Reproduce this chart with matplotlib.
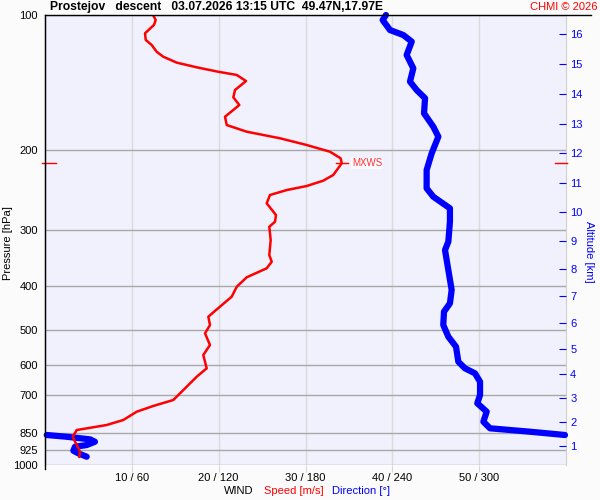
import numpy as np
import matplotlib
matplotlib.use('Agg')
from matplotlib import pyplot as plt
from matplotlib import transforms
from matplotlib.ticker import NullLocator

plt.rcParams['font.family'] = ['Liberation Sans', 'DejaVu Sans']

## wind speed profile [m/s] vs pressure [hPa]
speedPres = [100, 102.6, 105.2, 109.8, 113.6, 116.6, 120.7, 123.8, 127.6, 130.7,
             133.7, 135.9, 140.2, 146.8, 152.4, 158.5, 168.3, 175.6, 181.7, 187.9,
             194.5, 201.3, 208.2, 213.6, 226.7, 233.4, 239.9, 244.9, 251.2, 262.1,
             278.3, 288.0, 295.5, 316.2, 341.5, 353.4, 365.5, 382.7, 401.7, 422.7,
             444.8, 468.2, 488.6, 509.8, 541.2, 569.6, 609.8, 636.6, 669.9, 717.0,
             739.3, 761.3, 794.3, 814.9, 836.2, 865.4, 903.0, 934.1, 958.5]
speedVal = [12.44, 12.75, 12.55, 11.52, 11.60, 12.29, 12.86, 13.62, 15.17, 17.47,
            19.96, 22.08, 23.15, 21.88, 21.69, 22.38, 20.73, 20.93, 23.23, 27.06,
            30.14, 32.82, 34.05, 34.17, 33.20, 32.05, 30.14, 27.84, 25.91, 25.53,
            26.60, 26.49, 25.83, 25.99, 25.83, 26.11, 25.53, 23.23, 22.08, 21.50,
            20.15, 18.81, 19.00, 18.43, 19.00, 18.23, 18.62, 17.47, 16.32, 14.78,
            12.47, 10.56, 9.02, 7.11, 3.65, 3.19, 3.65, 4.03, 3.95]

## wind direction profile [deg] vs pressure [hPa]
dirPres = [100, 102.6, 108.0, 110.8, 114.6, 122.7, 131.4, 140.6, 146.8, 153.1,
           165.4, 177.1, 186.4, 202.9, 221.1, 242.7, 253.4, 268.9, 288.0, 319.0,
           332.9, 368.8, 408.4, 437.2, 456.3, 488.6, 518.7, 546.0, 589.3, 609.8,
           625.6, 653.0, 699.0, 729.2, 761.3, 801.3, 828.8, 843.4, 857.7,
           857.7, 865.4, 877.0, 887.8, 903.0, 910.8, 929.5, 942.0, 958.5]
dirVal = [235.6, 233.3, 238.4, 247.6, 253.4, 249.9, 254.5, 252.2, 256.8, 262.6,
          261.9, 268.3, 271.8, 267.2, 263.7, 263.7, 268.3, 279.8, 279.8, 278.7,
          276.4, 278.7, 281.0, 279.8, 275.7, 275.2, 278.7, 284.0, 285.6, 290.2,
          297.1, 300.6, 300.6, 298.7, 305.2, 302.9, 307.5, 335.1, 359.3,
          1.2, 15.0, 31.1, 34.5, 28.8, 20.7, 19.6, 23.0, 28.8]

## altitude scale
altKm = [1, 2, 3, 4, 5, 6, 7, 8, 9, 10, 11, 12, 13, 14, 15, 16]
altPres = [907.5, 802.0, 710.0, 627.9, 552.4, 483.6, 421.1, 366.8, 317.9, 274.1,
           236.2, 202.6, 174.7, 149.8, 128.5, 110.2]

presTicks = [100, 200, 300, 400, 500, 600, 700, 850, 925, 1000]
speedTicks = [10, 20, 30, 40, 50]
dirTicks = [60, 120, 180, 240, 300]

mxwsPres = 213.6
mxwsSpeed = 34.17

TITLE = 'Prostejov   descent   03.07.2026 13:15 UTC  49.47N,17.97E'
FS = 8

fig = plt.figure(figsize=(6, 5), dpi=100, facecolor='#fbfbfb')
ax = fig.add_axes([45/600, 35/500, 521/600, 450/500])
ax.set_facecolor('#f1f1fd')
ax.set_yscale('log')
ax.set_ylim(1000, 100)
ax.set_xlim(0, 60)
ax.yaxis.set_minor_locator(NullLocator())
ax.set_yticks(presTicks)
ax.set_yticklabels([str(p) for p in presTicks])
ax.set_xticks(speedTicks)
ax.set_xticklabels(['{} / {}'.format(s, d) for s, d in zip(speedTicks, dirTicks)])
ax.tick_params(axis='y', length=0, pad=5, labelsize=FS)
ax.tick_params(axis='x', length=5, color='#d8d8d8', pad=1, labelsize=FS)
ax.set_axisbelow(True)
ax.yaxis.grid(True, color='#a8a8a8', lw=1)
ax.xaxis.grid(True, color='#dadada', lw=1)
for s in ['top', 'bottom']:
	ax.spines[s].set_visible(False)
ax.spines['left'].set_color('k')
ax.spines['right'].set_color('#d0d0d0')

## direction axis (0-360) on top of speed axis
axd = ax.twiny()
axd.set_xlim(0, 360)
axd.set_xticks([])
for s in axd.spines.values():
	s.set_visible(False)

# break the direction line where it wraps around 360
dv = np.array(dirVal, dtype=float)
dp = np.array(dirPres, dtype=float)
jumps = np.where(np.abs(np.diff(dv)) > 180)[0] + 1
dvPlot = np.insert(dv, jumps, np.nan)
dpPlot = np.insert(dp, jumps, np.nan)
axd.plot(dvPlot, dpPlot, color='#0000ff', lw=4.5, solid_capstyle='round',
	solid_joinstyle='round', clip_on=False, zorder=2)

# speed drawn on the same layer, using the speed axis transform
axd.plot(speedVal, speedPres, color='#ff0000', lw=1.8, transform=ax.transData,
	solid_joinstyle='round', zorder=3)

## MXWS marks
bl = transforms.blended_transform_factory(ax.transAxes, ax.transData)
axd.plot([-0.006, 0.021], [mxwsPres, mxwsPres], color='#ff0000', lw=1,
	transform=bl, clip_on=False, zorder=4)
axd.plot([0.979, 1.002], [mxwsPres, mxwsPres], color='#ff0000', lw=1,
	transform=bl, clip_on=False, zorder=4)
axd.plot([mxwsSpeed-0.6, mxwsSpeed+0.7], [mxwsPres, mxwsPres], color='#ff0000',
	lw=1, transform=ax.transData, zorder=4)
axd.text(mxwsSpeed+1.2, mxwsPres, 'MXWS', color='#ff3030', fontsize=7,
	va='center', ha='left', transform=ax.transData, zorder=5,
	bbox=dict(facecolor='#fafaff', edgecolor='none', pad=0.5))

## altitude axis on the right
axr = ax.twinx()
axr.set_yscale('log')
axr.set_ylim(1000, 100)
axr.yaxis.set_minor_locator(NullLocator())
axr.set_yticks(altPres)
axr.set_yticklabels([str(a) for a in altKm])
axr.tick_params(axis='y', direction='in', length=5, color='#0000ff',
	labelcolor='#0000ff', pad=3, labelsize=FS)
for s in axr.spines.values():
	s.set_visible(False)

## frame lines
fig.add_artist(plt.Line2D([45/600, 591/600], [1-15/500, 1-15/500],
	transform=fig.transFigure, color='k', lw=1))
fig.add_artist(plt.Line2D([45/600, 45/600], [1-15/500, 1-469/500],
	transform=fig.transFigure, color='k', lw=1))

## texts
fig.text(50/600, 1-7/500, TITLE, fontsize=8.75, fontweight='bold', va='center', ha='left')
fig.text(597/600, 1-7/500, 'CHMI \u00a9 2026', fontsize=FS, color='#ff0000',
	va='center', ha='right')
fig.text(8/600, 1-243/500, 'Pressure [hPa]', fontsize=FS, rotation=90,
	va='center', ha='center')
fig.text(589/600, 1-252/500, 'Altitude [km]', fontsize=FS, rotation=-90,
	color='#0000ff', va='center', ha='center')
fig.text(239/600, 1-491/500, 'WIND', fontsize=FS, va='center', ha='center')
fig.text(264/600, 1-491/500, 'Speed [m/s]', fontsize=FS, color='#ff0000',
	va='center', ha='left')
fig.text(332/600, 1-491/500, 'Direction [\u00b0]', fontsize=FS, color='#0000ff',
	va='center', ha='left')

plt.savefig('out.png', dpi=100, facecolor=fig.get_facecolor())
